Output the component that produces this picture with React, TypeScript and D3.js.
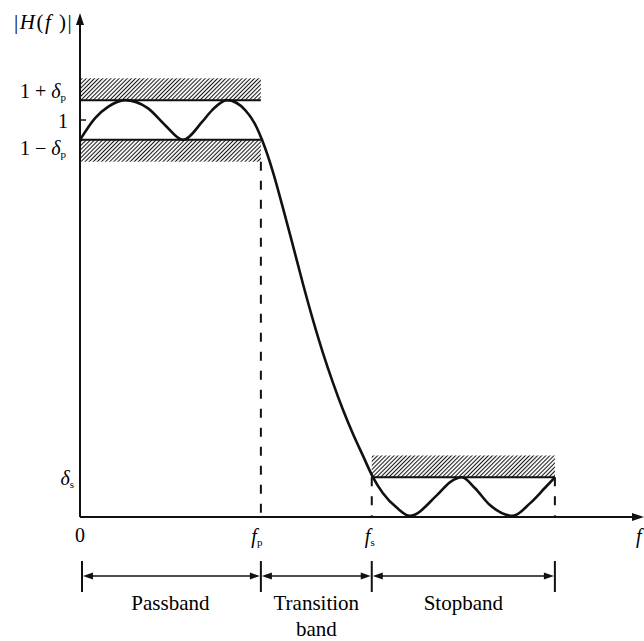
import React from "react";
import * as d3 from "d3";

// Frequency response (normalized frequency, magnitude)
const passF = [0, 0.027, 0.05, 0.08, 0.121, 0.152, 0.184, 0.218, 0.236, 0.2625, 0.295, 0.316, 0.325];
const passH = [0.95, 1.005, 1.033, 1.05, 1.03, 0.987, 0.95, 0.995, 1.025, 1.05, 1.025, 0.98, 0.95];
const transF = [0.3446, 0.3625, 0.3804, 0.3982, 0.4161, 0.4339, 0.4518, 0.4696, 0.4875, 0.5054, 0.5232];
const transH = [0.869, 0.778, 0.683, 0.587, 0.496, 0.413, 0.338, 0.27, 0.209, 0.154, 0.1];
const stopF = [0.541, 0.566, 0.589, 0.6375, 0.661, 0.682, 0.705, 0.732, 0.773, 0.804, 0.83, 0.848];
const stopH = [0.06, 0.023, 0.003, 0.055, 0.088, 0.1, 0.073, 0.03, 0.003, 0.035, 0.073, 0.1];

// Specification
const deltaP = 0.05;
const deltaS = 0.1;
const fp = 0.323;
const fs = 0.521;
const fEnd = 0.848;
const hatchDepth = 0.055;

const bandNames = ["Passband", "Transition", "Stopband"];
const bandEdges = [0, fp, fs, fEnd];

export default function App() {
  const W = 644, H = 641;
  const x = d3.scaleLinear().domain([0, 1]).range([80, 640]);
  const y = d3.scaleLinear().domain([0, 1]).range([517, 120]);

  const pts: [number, number][] = [
    ...passF.map((f, i) => [f, passH[i]] as [number, number]),
    ...transF.map((f, i) => [f, transH[i]] as [number, number]),
    ...stopF.map((f, i) => [f, stopH[i]] as [number, number]),
  ];
  const line = d3
    .line<[number, number]>()
    .x((d) => x(d[0]))
    .y((d) => y(d[1]))
    .curve(d3.curveMonotoneX);

  const serif = "'Liberation Serif', 'DejaVu Serif', serif";
  const x0 = x(0), yBase = y(0);
  const bracketY = 576;

  const arrowHead = (tipX: number, tipY: number, dir: "left" | "right") => {
    const s = dir === "right" ? -1 : 1;
    return `M${tipX},${tipY} L${tipX + s * 10},${tipY - 3.5} L${tipX + s * 10},${tipY + 3.5} Z`;
  };

  return (
    <svg width={W} height={H} style={{ position: "absolute", left: 0, top: 0, background: "#fff" }} fontFamily={serif}>
      <defs>
        <pattern id="hatch" width="2.9" height="2.9" patternUnits="userSpaceOnUse" patternTransform="rotate(45)">
          <rect width="2.9" height="2.9" fill="#f4f4f4" />
          <line x1="0" y1="0" x2="0" y2="2.9" stroke="#111" strokeWidth="1.9" />
        </pattern>
      </defs>

      {/* hatched tolerance bands */}
      <rect x={x0} y={y(1 + deltaP + hatchDepth)} width={x(fp) - x0} height={y(1 + deltaP) - y(1 + deltaP + hatchDepth)} fill="url(#hatch)" />
      <line x1={x0} x2={x(fp)} y1={y(1 + deltaP)} y2={y(1 + deltaP)} stroke="#111" strokeWidth={2} />
      <rect x={x0} y={y(1 - deltaP)} width={x(fp) - x0} height={y(1 - deltaP - hatchDepth) - y(1 - deltaP)} fill="url(#hatch)" />
      <line x1={x0} x2={x(fp)} y1={y(1 - deltaP)} y2={y(1 - deltaP)} stroke="#111" strokeWidth={2} />
      <rect x={x(fs)} y={y(deltaS + hatchDepth)} width={x(fEnd) - x(fs)} height={y(deltaS) - y(deltaS + hatchDepth)} fill="url(#hatch)" />
      <line x1={x(fs)} x2={x(fEnd)} y1={y(deltaS)} y2={y(deltaS)} stroke="#111" strokeWidth={2} />

      {/* dashed guides */}
      <line x1={x(fp)} x2={x(fp)} y1={y(1 - deltaP - hatchDepth)} y2={yBase} stroke="#111" strokeWidth={2} strokeDasharray="9,10" />
      <line x1={x(fs)} x2={x(fs)} y1={y(deltaS)} y2={yBase} stroke="#111" strokeWidth={2} strokeDasharray="9,10" />
      <line x1={x(fEnd)} x2={x(fEnd)} y1={y(deltaS)} y2={yBase} stroke="#111" strokeWidth={2} strokeDasharray="9,10" />

      {/* axes */}
      <line x1={x0} x2={x0} y1={yBase} y2={20} stroke="#111" strokeWidth={2} />
      <path d={`M${x0},13 L${x0 - 4},25 L${x0 + 4},25 Z`} fill="#111" />
      <line x1={x0} x2={636} y1={yBase} y2={yBase} stroke="#111" strokeWidth={2} />
      <path d={`M644,${yBase} L632,${yBase - 4} L632,${yBase + 4} Z`} fill="#111" />
      <line x1={x0} x2={x0 + 6} y1={y(1)} y2={y(1)} stroke="#111" strokeWidth={1.5} />

      {/* response curve */}
      <path d={line(pts) || ""} fill="none" stroke="#111" strokeWidth={2.6} strokeLinejoin="round" />

      {/* y labels */}
      <text x={14} y={29} fontSize={21} letterSpacing={1.5}>|<tspan fontStyle="italic">H</tspan>(<tspan fontStyle="italic">f</tspan> )|</text>
      <text x={66} y={y(1 + deltaP) - 2} fontSize={20} textAnchor="end">1 + <tspan fontStyle="italic">δ</tspan><tspan fontSize={11} dy={3}>p</tspan></text>
      <text x={68} y={y(1) + 8} fontSize={20} textAnchor="end">1</text>
      <text x={66} y={y(1 - deltaP) + 15} fontSize={20} textAnchor="end">1 − <tspan fontStyle="italic">δ</tspan><tspan fontSize={11} dy={3}>p</tspan></text>
      <text x={74} y={y(deltaS) + 8} fontSize={20} textAnchor="end"><tspan fontStyle="italic">δ</tspan><tspan fontSize={11} dy={3}>s</tspan></text>

      {/* x labels */}
      <text x={x0} y={542} fontSize={20} textAnchor="middle">0</text>
      <text x={x(fp) - 4} y={543} fontSize={20} textAnchor="middle"><tspan fontStyle="italic">f</tspan><tspan fontSize={11} dy={3}>p</tspan></text>
      <text x={x(fs) - 2} y={543} fontSize={20} textAnchor="middle"><tspan fontStyle="italic">f</tspan><tspan fontSize={11} dy={3}>s</tspan></text>
      <text x={636} y={543} fontSize={20}><tspan fontStyle="italic">f</tspan></text>

      {/* band brackets */}
      {bandEdges.map((f, i) => (
        <line key={`b${i}`} x1={x(f) + (i === 0 ? 2 : 0)} x2={x(f) + (i === 0 ? 2 : 0)} y1={561} y2={592} stroke="#111" strokeWidth={2} />
      ))}
      {bandNames.map((name, i) => {
        const a = x(bandEdges[i]) + (i === 0 ? 2 : 0) + 1;
        const b = x(bandEdges[i + 1]) - 1;
        const cx = (x(bandEdges[i]) + x(bandEdges[i + 1])) / 2;
        return (
          <g key={name}>
            <line x1={a + 8} x2={b - 8} y1={bracketY} y2={bracketY} stroke="#111" strokeWidth={1.6} />
            <path d={arrowHead(a, bracketY, "left")} fill="#111" />
            <path d={arrowHead(b, bracketY, "right")} fill="#111" />
            <text x={cx} y={610} fontSize={21} textAnchor="middle">{name}</text>
            {name === "Transition" && (
              <text x={cx} y={636} fontSize={21} textAnchor="middle">band</text>
            )}
          </g>
        );
      })}
    </svg>
  );
}
